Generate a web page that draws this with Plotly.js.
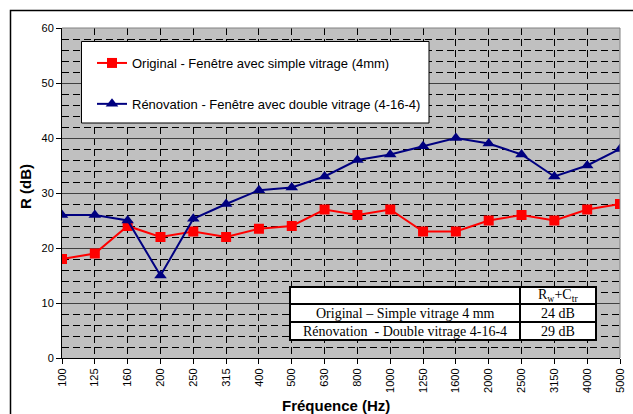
<!DOCTYPE html>
<html>
<head>
<meta charset="utf-8">
<script src="https://cdn.plot.ly/plotly-3.0.1.min.js"></script>
<style>html,body{margin:0;padding:0;background:#fff;}#chart{width:633px;height:414px;}</style>
</head>
<body>
<div id="chart"></div>
<script>
const categories = ['100','125','160','200','250','315','400','500','630','800','1000','1250','1600','2000','2500','3150','4000','5000'];
const originalR = [18,19,24,22,23,22,23.5,24,27,26,27,23,23,25,26,25,27,28];
const renovationR = [26,26,25,15,25.3,28,30.5,31,33,36,37,38.5,40,39,37,33,35,38];
const seriesNames = ['Original - Fenêtre avec simple vitrage (4mm)','Rénovation - Fenêtre avec double vitrage (4-16-4)'];
const tableHeader = 'R<sub>w</sub>+C<sub>tr</sub>';
const tableRowLabels = ['Original – Simple vitrage 4 mm','Rénovation\u00a0 - Double vitrage 4-16-4'];
const tableValues = ['24 dB','29 dB'];
const xTitle = 'Fréquence (Hz)';
const yTitle = 'R (dB)';

// plot area in pixels
const L = 62, R = 620, T = 28, B = 358;
const px = x => (x - L) / (R - L);
const py = y => (B - y) / (B - T);

const ARIAL = 'Arial, Liberation Sans, sans-serif';
const TIMES = 'Times New Roman, Liberation Serif, serif';

const traces = [
  {x: categories, y: originalR, name: seriesNames[0], type: 'scatter', mode: 'lines+markers',
   legendgroup: 'a', line: {color: '#FF0000', width: 2}, marker: {symbol: 'square', size: 10, color: '#FF0000'}},
  {x: categories, y: renovationR, name: seriesNames[1], type: 'scatter', mode: 'lines+markers',
   legendgroup: 'b', line: {color: '#000080', width: 2}, marker: {symbol: 'triangle-up', size: 11, color: '#000080'}}
];

const shapes = [
  // outer chart frame
  {type: 'rect', xref: 'paper', yref: 'paper', x0: px(10.5), x1: px(640), y0: py(430), y1: py(10.5), line: {color: 'black', width: 1.5}, layer: 'above'},
  // plot area top/right border
  {type: 'line', xref: 'paper', yref: 'paper', x0: 0, x1: 1, y0: 1, y1: 1, line: {color: '#808080', width: 1}, layer: 'above'},
  {type: 'line', xref: 'paper', yref: 'paper', x0: 1, x1: 1, y0: 0, y1: 1, line: {color: '#808080', width: 1}, layer: 'above'},
  // legend box
  {type: 'rect', xref: 'paper', yref: 'paper', x0: px(81.5), x1: px(429), y0: py(123), y1: py(41.5), fillcolor: 'white', line: {color: 'black', width: 1}, layer: 'above'},
  // table
  {type: 'rect', xref: 'paper', yref: 'paper', x0: px(290), x1: px(596), y0: py(340), y1: py(287), fillcolor: 'white', line: {color: 'black', width: 2}, layer: 'above'},
  {type: 'line', xref: 'paper', yref: 'paper', x0: px(290), x1: px(596), y0: py(304), y1: py(304), line: {color: 'black', width: 2}, layer: 'above'},
  {type: 'line', xref: 'paper', yref: 'paper', x0: px(290), x1: px(596), y0: py(322), y1: py(322), line: {color: 'black', width: 2}, layer: 'above'},
  {type: 'line', xref: 'paper', yref: 'paper', x0: px(520), x1: px(520), y0: py(340), y1: py(287), line: {color: 'black', width: 2}, layer: 'above'}
];

function note(text, x, y, family, size, angle) {
  return {text: text, xref: 'paper', yref: 'paper', x: px(x), y: py(y), xanchor: 'center', yanchor: 'middle',
          textangle: angle || 0, showarrow: false, font: {family: family, size: size, color: 'black'}};
}

const annotations = [
  note('<b>' + yTitle + '</b>', 25, 187, ARIAL, 15, -90),
  note('<b>' + xTitle + '</b>', 336, 405, ARIAL, 15),
  note(tableHeader, 558, 295.5, TIMES, 14),
  note(tableRowLabels[0], 405, 313, TIMES, 14),
  note(tableRowLabels[1], 405, 331, TIMES, 14),
  note(tableValues[0], 558, 313, TIMES, 14),
  note(tableValues[1], 558, 331, TIMES, 14)
];

const layout = {
  width: 633, height: 414,
  margin: {l: L, r: 633 - R, t: T, b: 414 - B},
  paper_bgcolor: 'white', plot_bgcolor: '#C0C0C0',
  font: {family: ARIAL, size: 11, color: 'black'},
  showlegend: true,
  legend: {x: px(92), y: py(48), xanchor: 'left', yanchor: 'top', bgcolor: 'rgba(0,0,0,0)', borderwidth: 0,
           font: {family: ARIAL, size: 13, color: 'black'}, tracegroupgap: 21, traceorder: 'grouped', itemwidth: 30},
  xaxis: {type: 'category', range: [0, categories.length - 1], showgrid: true, gridcolor: 'black', griddash: '7px,4px', gridwidth: 1,
          ticks: 'outside', ticklen: 5, tickcolor: 'black', showline: true, linecolor: 'black', linewidth: 1,
          tickangle: -90, tickfont: {family: ARIAL, size: 11}, zeroline: false, fixedrange: true},
  yaxis: {range: [0, 60], tick0: 0, dtick: 10, showgrid: true, gridcolor: '#404040', gridwidth: 1,
          ticks: 'outside', ticklen: 5, tickcolor: 'black', showline: true, linecolor: 'black', linewidth: 1,
          tickfont: {family: ARIAL, size: 11}, zeroline: false, fixedrange: true,
          minor: {dtick: 2, showgrid: true, gridcolor: 'black', griddash: '7px,4px', gridwidth: 1, ticks: ''}},
  shapes: shapes,
  annotations: annotations
};

Plotly.newPlot('chart', traces, layout, {displayModeBar: false, staticPlot: true});
</script>
</body>
</html>
